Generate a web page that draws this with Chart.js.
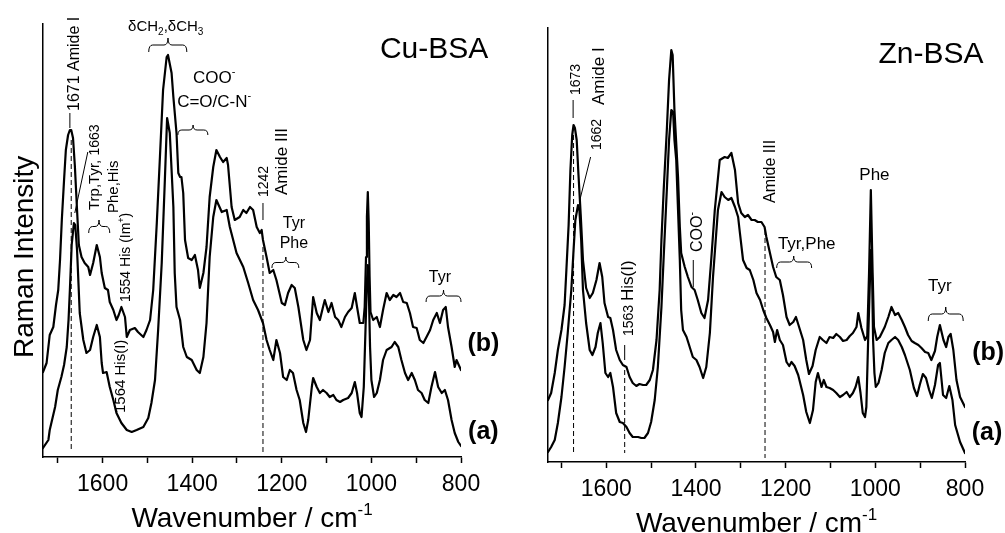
<!DOCTYPE html>
<html><head><meta charset="utf-8">
<script src="https://cdn.jsdelivr.net/npm/chart.js@4.4.1/dist/chart.umd.min.js"></script>
<style>
html,body{margin:0;padding:0;background:#fff;width:1005px;height:533px;overflow:hidden;}
canvas{position:absolute;top:0;}
#cu{left:0;width:515px;height:533px;}
#zn{left:515px;width:490px;height:533px;}
</style></head><body>
<canvas id="cu" width="515" height="533"></canvas>
<canvas id="zn" width="490" height="533"></canvas>
<script>
// ---- data: [wavenumber (cm-1), Raman intensity (a.u.)] ----
const xTickValues = [800, 900, 1000, 1100, 1200, 1300, 1400, 1500, 1600, 1700];
const xLabelStep = 200;

const cuB = [[1733,85],[1725,94],[1718,122],[1710,130],[1704,152],[1699,167],[1695,197],[1691,237],[1686,277],[1682,307],[1677,322],[1673,327],[1670,327],[1666,319],[1662,292],[1657,247],[1653,212],[1647,200],[1640,194],[1632,190],[1628,182],[1621,194],[1613,212],[1606,200],[1602,184],[1595,169],[1588,167],[1584,155],[1576,147],[1569,137],[1564,142],[1558,150],[1550,140],[1546,120],[1539,127],[1528,129],[1521,125],[1509,120],[1502,127],[1494,137],[1487,167],[1479,234],[1472,300],[1465,367],[1457,400],[1454,402],[1446,384],[1442,360],[1435,324],[1431,284],[1427,280],[1424,280],[1420,264],[1416,217],[1409,199],[1401,197],[1394,202],[1387,187],[1383,169],[1375,184],[1368,210],[1361,260],[1353,290],[1346,307],[1338,300],[1331,295],[1323,299],[1320,292],[1312,250],[1305,237],[1294,240],[1286,247],[1279,244],[1271,250],[1264,247],[1256,230],[1249,224],[1245,227],[1242,217],[1234,200],[1227,184],[1219,187],[1212,177],[1200,154],[1193,152],[1186,164],[1178,172],[1171,169],[1163,150],[1152,117],[1145,107],[1137,117],[1130,160],[1122,144],[1115,137],[1108,150],[1104,157],[1096,145],[1089,154],[1081,140],[1074,137],[1067,130],[1059,140],[1052,145],[1044,149],[1037,164],[1032,150],[1026,134],[1018,134],[1015,150],[1012,200],[1010,240],[1008,265],[1006,235],[1004,180],[1002,145],[996,137],[988,140],[981,130],[974,147],[966,164],[959,157],[951,162],[944,160],[936,164],[929,155],[921,154],[914,144],[907,130],[899,129],[892,117],[884,114],[877,120],[869,127],[862,137],[854,144],[847,134],[840,147],[834,150],[829,130],[821,110],[814,90],[810,97],[800,87]];

const cuA = [[1733,9],[1721,17],[1718,27],[1706,50],[1700,67],[1692,80],[1686,92],[1680,110],[1676,137],[1673,167],[1669,212],[1664,234],[1661,232],[1657,207],[1651,144],[1643,117],[1636,104],[1628,107],[1621,120],[1613,132],[1606,120],[1602,94],[1599,84],[1591,85],[1584,70],[1576,57],[1569,44],[1558,34],[1546,27],[1535,25],[1524,27],[1509,30],[1498,39],[1491,54],[1483,77],[1476,127],[1468,194],[1461,277],[1456,339],[1450,324],[1442,250],[1439,184],[1435,150],[1427,137],[1420,110],[1412,100],[1401,97],[1390,87],[1383,84],[1375,100],[1368,134],[1361,200],[1353,240],[1346,257],[1334,245],[1323,247],[1316,230],[1301,204],[1286,190],[1275,174],[1264,157],[1253,147],[1242,134],[1234,117],[1227,107],[1219,97],[1212,117],[1204,104],[1197,80],[1189,77],[1182,87],[1175,84],[1167,67],[1160,57],[1152,34],[1146,25],[1141,37],[1133,70],[1130,79],[1122,70],[1115,64],[1108,67],[1100,64],[1093,60],[1085,62],[1078,57],[1070,55],[1063,57],[1052,59],[1044,64],[1037,75],[1032,64],[1026,44],[1022,40],[1017,70],[1013,130],[1010,175],[1008,192],[1006,170],[1003,110],[1000,77],[994,60],[988,64],[981,77],[974,97],[966,107],[955,110],[948,115],[940,110],[933,97],[925,84],[918,77],[910,84],[903,77],[896,67],[888,64],[881,57],[873,54],[866,70],[858,85],[851,70],[843,64],[836,67],[829,57],[821,37],[814,24],[806,15],[800,11]];

const znB = [[1730,62],[1723,69],[1715,89],[1708,112],[1700,132],[1693,157],[1689,192],[1684,237],[1680,292],[1676,327],[1673,337],[1670,334],[1666,322],[1662,287],[1657,247],[1652,202],[1645,174],[1637,164],[1630,169],[1622,182],[1615,199],[1609,185],[1604,159],[1596,145],[1591,144],[1585,132],[1578,112],[1570,102],[1563,97],[1555,95],[1548,85],[1541,79],[1533,76],[1526,78],[1518,77],[1511,77],[1503,82],[1496,92],[1488,122],[1481,172],[1477,222],[1472,272],[1465,332],[1460,382],[1455,412],[1452,407],[1448,352],[1440,285],[1436,235],[1433,209],[1425,195],[1418,185],[1410,175],[1403,172],[1396,162],[1388,149],[1381,144],[1373,162],[1366,202],[1358,252],[1347,302],[1336,305],[1329,304],[1321,309],[1313,292],[1306,259],[1299,249],[1291,245],[1284,247],[1276,242],[1269,242],[1262,240],[1254,240],[1247,235],[1243,225],[1235,209],[1228,195],[1221,185],[1213,182],[1206,167],[1198,145],[1191,137],[1183,140],[1177,145],[1170,135],[1161,122],[1154,102],[1148,88],[1140,96],[1133,112],[1124,125],[1117,122],[1109,119],[1102,125],[1094,124],[1087,128],[1079,125],[1072,121],[1064,122],[1057,126],[1050,129],[1042,135],[1038,149],[1031,134],[1023,122],[1018,126],[1014,189],[1010,272],[1006,189],[1003,135],[997,122],[990,125],[979,135],[971,145],[964,155],[956,147],[949,149],[941,142],[934,135],[927,127],[919,121],[912,119],[904,117],[897,114],[889,110],[882,109],[875,102],[867,111],[862,125],[856,137],[848,122],[842,115],[837,125],[832,128],[826,112],[819,82],[811,65],[800,55]];

const znA = [[1730,10],[1723,15],[1715,22],[1708,39],[1700,65],[1693,95],[1686,129],[1678,172],[1673,212],[1669,242],[1663,257],[1660,252],[1656,222],[1652,172],[1645,139],[1637,112],[1631,107],[1624,115],[1619,129],[1613,139],[1608,119],[1602,89],[1596,85],[1591,89],[1585,75],[1578,49],[1570,40],[1563,39],[1555,35],[1548,29],[1541,25],[1529,25],[1522,24],[1515,24],[1507,29],[1500,40],[1492,62],[1485,95],[1477,155],[1472,205],[1465,272],[1460,322],[1455,352],[1451,350],[1448,322],[1444,302],[1440,252],[1436,202],[1433,152],[1429,132],[1421,125],[1414,115],[1407,105],[1399,102],[1392,95],[1384,84],[1377,95],[1369,129],[1362,185],[1351,252],[1343,270],[1336,265],[1328,262],[1321,264],[1313,255],[1306,245],[1302,229],[1295,202],[1287,194],[1280,192],[1272,182],[1265,169],[1257,162],[1250,152],[1243,144],[1235,137],[1228,130],[1224,120],[1219,132],[1213,122],[1206,117],[1198,100],[1192,96],[1187,100],[1180,96],[1172,87],[1161,67],[1154,50],[1146,39],[1139,52],[1133,80],[1128,89],[1120,75],[1115,82],[1109,75],[1102,74],[1094,72],[1087,69],[1079,65],[1072,67],[1064,70],[1057,65],[1050,69],[1044,75],[1038,85],[1033,69],[1028,49],[1023,45],[1020,55],[1016,122],[1012,182],[1010,212],[1007,182],[1005,122],[1002,89],[999,75],[993,79],[986,92],[979,109],[971,119],[964,122],[956,125],[949,122],[941,115],[934,107],[923,92],[914,74],[907,66],[901,77],[894,88],[887,84],[880,72],[874,64],[867,77],[860,97],[856,99],[849,67],[842,64],[835,76],[828,62],[822,37],[811,20],[800,9]];

// ---- annotations (positions in data units: wn, intensity) ----
const cuNotes = [
  {k:'rtext', wn:1665, v:346, segs:[['1671 Amide I',16]]},
  {k:'line', wn1:1673, v1:344, wn2:1673, v2:329},
  {k:'dash', wn1:1670, v1:317, wn2:1670, v2:5},
  {k:'rtext', wn:1619.5, v:247, segs:[['Trp,Tyr, ',15],['1663',14]]},
  {k:'rtext', wn:1577.5, v:244, segs:[['Phe,His',15]]},
  {k:'line', wn1:1633, v1:305, wn2:1662, v2:244},
  {k:'brace', wn1:1631, wn2:1584, tip:1608, top:237, bot:224},
  {k:'rtext', wn:1549, v:155, segs:[['1554 His (Im',14],['+',9,-6],[')',14]]},
  {k:'rtext', wn:1561, v:44, segs:[['1564 His(I)',15]]},
  {k:'text', wn:1459, v:426, segs:[['\u03B4CH',15],['2',10,4],[',\u03B4CH',15],['3',10,4]]},
  {k:'brace', wn1:1497, wn2:1412, tip:1454, top:419, bot:405},
  {k:'text', wn:1351, v:374, segs:[['COO',17],['-',11,-8]]},
  {k:'text', wn:1351, v:350, segs:[['C=O/C-N',17],['-',11,-8]]},
  {k:'brace', wn1:1432, wn2:1365, tip:1398, top:332, bot:322},
  {k:'rtext', wn:1242, v:260, segs:[['1242',14]]},
  {k:'rtext', wn:1202, v:262, segs:[['Amide III',17]]},
  {k:'line', wn1:1242, v1:254, wn2:1242, v2:237},
  {k:'dash', wn1:1242, v1:210, wn2:1242, v2:5},
  {k:'text', wn:1173, v:229, segs:[['Tyr',16]]},
  {k:'text', wn:1173, v:209, segs:[['Phe',16]]},
  {k:'brace', wn1:1222, wn2:1162, tip:1191, top:200, bot:189},
  {k:'text', wn:847, v:175, segs:[['Tyr',16]]},
  {k:'brace', wn1:878, wn2:800, tip:839, top:167, bot:155},
  {k:'text', wn:750, v:106, segs:[['(b)',25,0,1]]},
  {k:'text', wn:750, v:18.5, segs:[['(a)',25,0,1]]},
  {k:'text', wn:981, v:399, align:'left', segs:[['Cu-BSA',30]]}
];
const znNotes = [
  {k:'rtext', wn:1669, v:367, segs:[['1673',14]]},
  {k:'line', wn1:1674, v1:362, wn2:1674, v2:344},
  {k:'dash', wn1:1673, v1:327, wn2:1673, v2:9},
  {k:'rtext', wn:1619, v:357, segs:[['Amide I',17]]},
  {k:'rtext', wn:1623.5, v:312, segs:[['1662',14]]},
  {k:'line', wn1:1635, v1:305, wn2:1659, v2:262},
  {k:'rtext', wn:1552, v:126, segs:[['1563 ',14],['His(I)',17]]},
  {k:'line', wn1:1559, v1:117, wn2:1559, v2:102},
  {k:'dash', wn1:1559, v1:92, wn2:1559, v2:9},
  {k:'rtext', wn:1400, v:210, segs:[['COO',16],['-',10,-7]]},
  {k:'line', wn1:1406, v1:202, wn2:1406, v2:175},
  {k:'rtext', wn:1237, v:259, segs:[['Amide III',16]]},
  {k:'dash', wn1:1246, v1:232, wn2:1246, v2:4},
  {k:'text', wn:1153, v:213, segs:[['Tyr,Phe',17]]},
  {k:'brace', wn1:1220, wn2:1142, tip:1182, top:206, bot:194},
  {k:'text', wn:1002, v:282, segs:[['Phe',17]]},
  {k:'text', wn:856, v:171, segs:[['Tyr',17]]},
  {k:'brace', wn1:882, wn2:804, tip:843, top:155, bot:141},
  {k:'text', wn:748.5, v:102, segs:[['(b)',25,0,1]]},
  {k:'text', wn:751, v:22, segs:[['(a)',25,0,1]]},
  {k:'text', wn:993, v:399, align:'left', segs:[['Zn-BSA',30]]}
];

const FONT = '"Liberation Sans", Arial, Helvetica, sans-serif';
function setFont(ctx, s){ ctx.font = (s[3] ? 'bold ' : '') + s[1] + 'px ' + FONT; }
function drawRich(ctx, segs, x, y, rotated, align){
  ctx.save();
  ctx.translate(x, y);
  if (rotated) ctx.rotate(-Math.PI/2);
  let w = 0;
  segs.forEach(s => { setFont(ctx, s); w += ctx.measureText(s[0]).width; });
  let cx = align === 'center' ? -w/2 : 0;
  const base = rotated ? segs[0][1]*0.358 : 0;
  ctx.fillStyle = '#000'; ctx.textAlign = 'left'; ctx.textBaseline = 'alphabetic';
  segs.forEach(s => { setFont(ctx, s); ctx.fillText(s[0], cx, base + (s[2]||0)); cx += ctx.measureText(s[0]).width; });
  ctx.restore();
}
function drawBrace(ctx, xa, xb, xt, yTop, yBot){
  const x1 = Math.min(xa, xb), x2 = Math.max(xa, xb);
  const ym = (yTop + yBot)/2, r = 4;
  ctx.beginPath();
  ctx.moveTo(x1, yBot);
  ctx.quadraticCurveTo(x1, ym, x1 + r, ym);
  ctx.lineTo(xt - r, ym);
  ctx.quadraticCurveTo(xt, ym, xt, yTop);
  ctx.quadraticCurveTo(xt, ym, xt + r, ym);
  ctx.lineTo(x2 - r, ym);
  ctx.quadraticCurveTo(x2, ym, x2, yBot);
  ctx.stroke();
}
function notesPlugin(notes, showYTitle){
  return {
    id: 'notes',
    afterDraw(chart){
      const ctx = chart.ctx, ca = chart.chartArea, sx = chart.scales.x, sy = chart.scales.y;
      const px = v => sx.getPixelForValue(v), py = v => sy.getPixelForValue(v);
      ctx.save();
      ctx.strokeStyle = '#000'; ctx.lineWidth = 1;
      notes.forEach(n => {
        if (n.k === 'text') drawRich(ctx, n.segs, px(n.wn), py(n.v), false, n.align || 'center');
        else if (n.k === 'rtext') drawRich(ctx, n.segs, px(n.wn), py(n.v), true, 'left');
        else if (n.k === 'line' || n.k === 'dash'){
          ctx.setLineDash(n.k === 'dash' ? [5,3] : []);
          ctx.beginPath(); ctx.moveTo(px(n.wn1), py(n.v1)); ctx.lineTo(px(n.wn2), py(n.v2)); ctx.stroke();
          ctx.setLineDash([]);
        } else if (n.k === 'brace') drawBrace(ctx, px(n.wn1), px(n.wn2), px(n.tip), py(n.top), py(n.bot));
      });
      drawRich(ctx, [['Wavenumber / cm',28],['-1',17,-12]], (ca.left+ca.right)/2, ca.bottom + 70, false, 'center');
      if (showYTitle) drawRich(ctx, [['Raman Intensity',28]], ca.left - 20, ca.bottom - 99, true, 'left');
      ctx.restore();
    }
  };
}
function makeChart(id, seriesA, seriesB, notes, lay){
  const pts = arr => arr.map(p => ({x:p[0], y:p[1]}));
  const ds = arr => ({data: pts(arr), borderColor:'#000', borderWidth:2.2, borderJoinStyle:'round', borderCapStyle:'round',
                      pointRadius:0, tension:0, fill:false});
  return new Chart(document.getElementById(id), {
    type: 'line',
    data: { datasets: [ds(seriesB), ds(seriesA)] },
    options: {
      responsive: false, animation: false, devicePixelRatio: 1,
      layout: { padding: { left: 0, top: lay.top, right: lay.right, bottom: 0 } },
      plugins: { legend: {display:false}, tooltip: {enabled:false} },
      scales: {
        x: {
          type: 'linear', reverse: true, min: 800, max: lay.xmax,
          afterBuildTicks: s => { s.ticks = xTickValues.map(v => ({value: v})); },
          afterFit: s => { s.height = lay.xh; },
          ticks: { autoSkip: false, maxRotation: 0, color: '#000', padding: 8,
                   font: { family: FONT, size: 23 },
                   callback: v => (v % xLabelStep === 0 ? String(v) : '') },
          grid: { display: true, drawOnChartArea: false, drawTicks: true, tickLength: 6, tickWidth: 1.5, tickColor: '#000' },
          border: { display: true, color: '#000', width: 1.5 }
        },
        y: {
          min: 0, max: lay.ymax,
          ticks: { display: false },
          grid: { display: false, drawTicks: false },
          border: { display: true, color: '#000', width: 1.5 },
          afterFit: s => { s.width = lay.yw; }
        }
      }
    },
    plugins: [notesPlugin(notes, lay.yTitle)]
  });
}
makeChart('cu', cuA, cuB, cuNotes, {top:24, right:54, xh:76, yw:43, xmax:1733, ymax:433, yTitle:true});
makeChart('zn', znA, znB, znNotes, {top:28, right:40, xh:71, yw:33, xmax:1730, ymax:434, yTitle:false});
</script>
</body></html>
